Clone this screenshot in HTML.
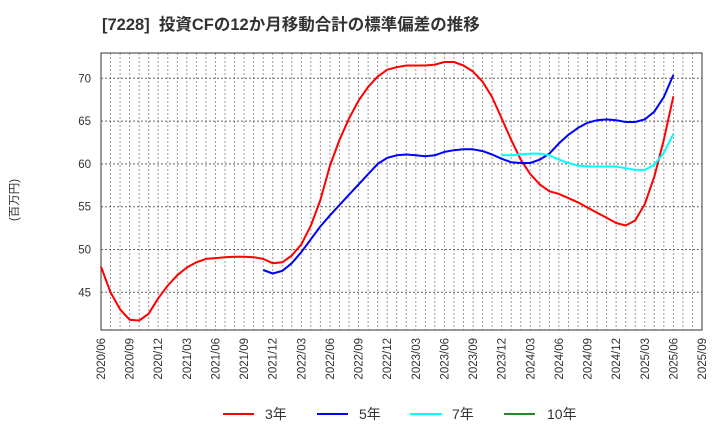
<!DOCTYPE html>
<html><head><meta charset="utf-8"><style>
body{margin:0;background:#fff;}
svg{display:block;font-family:"Liberation Sans","Noto Sans CJK JP",sans-serif;}
</style></head><body>
<svg id="s" width="720" height="440" xmlns="http://www.w3.org/2000/svg">
<text x="102" y="30" font-size="16.5" font-weight="bold" fill="#333" xml:space="preserve">[7228]  投資CFの12か月移動合計の標準偏差の推移</text>
<g id="grid"></g>
<rect x="101" y="53" width="601" height="277" fill="none" stroke="#333" stroke-width="1"/>
<g id="lab" font-size="11.5" fill="#333"></g>
<text transform="translate(18,200) rotate(-90)" font-size="11.5" fill="#333" text-anchor="middle">(百万円)</text>
<g id="ser" fill="none" stroke-width="2" stroke-linejoin="round"></g>
<g font-size="14" fill="#333">
<line x1="223" y1="414" x2="254" y2="414" stroke="#f00" stroke-width="2"/><text x="265" y="419">3年</text>
<line x1="317" y1="414" x2="348" y2="414" stroke="#00f" stroke-width="2"/><text x="359" y="419">5年</text>
<line x1="410" y1="414" x2="442" y2="414" stroke="#0ff" stroke-width="2"/><text x="452" y="419">7年</text>
<line x1="504" y1="414" x2="535" y2="414" stroke="#228b22" stroke-width="2"/><text x="547" y="419">10年</text>
</g>
</svg>
<script>
const X=m=>101+m*601/63, Y=v=>78.3+(70-v)*8.56;
let g='',l='';
for(let m=1;m<63;m++){g+=`<line x1="${X(m)}" y1="53" x2="${X(m)}" y2="330" stroke="#999" stroke-width="1" stroke-dasharray="2,2"/>`;}
for(const v of [45,50,55,60,65,70]){g+=`<line x1="101" y1="${Y(v)}" x2="702" y2="${Y(v)}" stroke="#666" stroke-width="1" stroke-dasharray="2,2"/>`;
l+=`<text x="91" y="${Y(v)+4}" text-anchor="end">${v}</text>`;}
for(let q=0;q<22;q++){const m=q*3;const yr=2020+Math.floor((5+m)/12);const mo=((5+m)%12)+1;
const s=yr+'/'+String(mo).padStart(2,'0');
l+=`<text transform="translate(${X(m)+4},338) rotate(-90)" text-anchor="end">${s}</text>`;}
document.getElementById('grid').innerHTML=g;document.getElementById('lab').innerHTML=l;
const red=[48.0,45.0,43.0,41.8,41.7,42.5,44.3,45.8,47.0,47.9,48.5,48.9,49.0,49.1,49.15,49.15,49.1,48.9,48.4,48.5,49.3,50.6,52.8,55.8,59.8,62.8,65.3,67.4,69.0,70.2,71.0,71.3,71.5,71.5,71.5,71.6,71.9,71.9,71.5,70.8,69.6,67.8,65.3,62.8,60.5,58.8,57.6,56.8,56.5,56.0,55.5,54.9,54.3,53.7,53.1,52.8,53.4,55.3,58.5,62.8,67.9];
const blue=[47.6,47.2,47.5,48.4,49.7,51.2,52.7,54.0,55.2,56.4,57.6,58.8,60.0,60.7,61.0,61.1,61.0,60.9,61.0,61.4,61.6,61.7,61.7,61.5,61.1,60.6,60.2,60.1,60.1,60.5,61.2,62.4,63.4,64.2,64.8,65.1,65.2,65.1,64.9,64.9,65.2,66.1,67.8,70.4];
const cyan=[61.0,61.0,61.1,61.2,61.2,61.0,60.5,60.1,59.8,59.7,59.7,59.7,59.7,59.5,59.3,59.3,59.9,61.3,63.5];
const P=(a,o,c)=>`<polyline stroke="${c}" points="${a.map((v,i)=>X(i+o).toFixed(1)+','+Y(v).toFixed(1)).join(' ')}"/>`;
document.getElementById('ser').innerHTML=P(red,0,'#f00')+P(blue,17,'#00f')+P(cyan,42,'#0ff');
</script>
</body></html>
